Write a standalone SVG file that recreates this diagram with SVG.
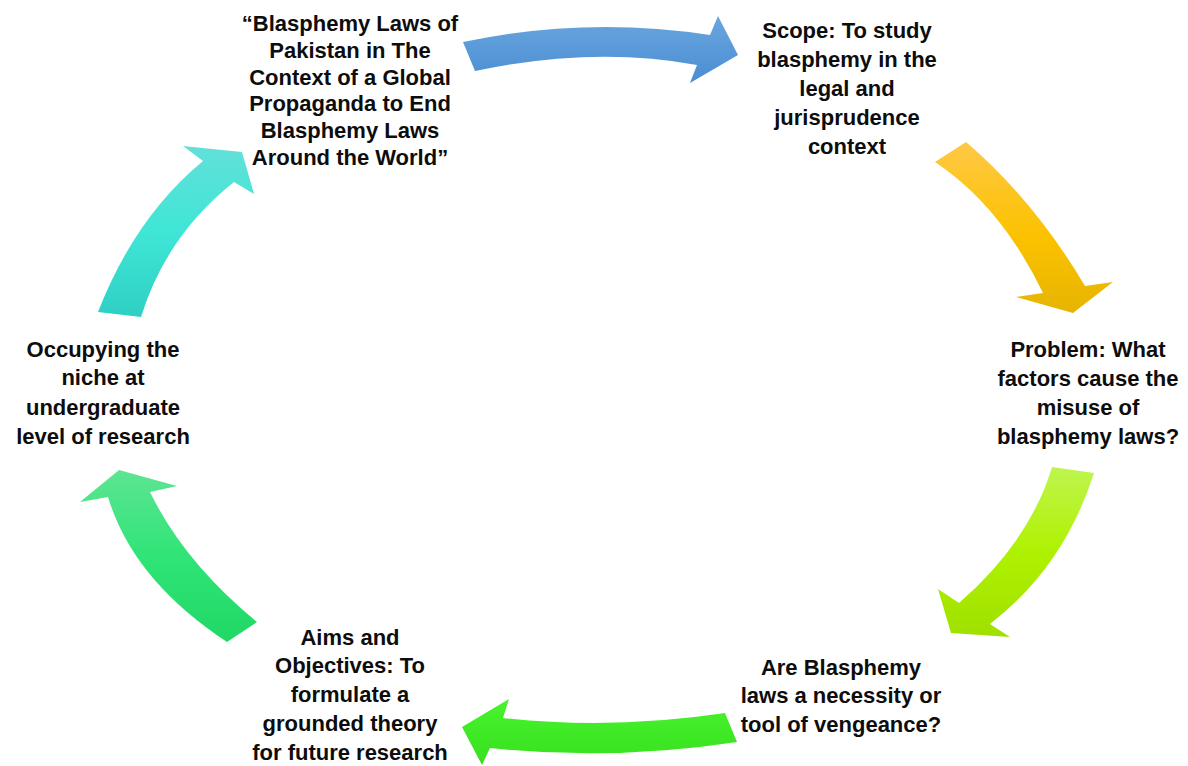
<svg xmlns="http://www.w3.org/2000/svg" width="1188" height="766" viewBox="0 0 1188 766">
  <style>
    .lbl { font-family: "Liberation Sans", Arial, sans-serif; font-weight: 700; font-size: 22px; fill: #0d0d0d; text-anchor: middle; }
  </style>
  <defs>
    <linearGradient id="gBlue" x1="0" y1="0" x2="0" y2="1">
      <stop offset="0" stop-color="#6aa6de"/>
      <stop offset="1" stop-color="#4a8dd4"/>
    </linearGradient>
    <linearGradient id="gYellow" x1="0" y1="0" x2="0" y2="1">
      <stop offset="0" stop-color="#ffc845"/>
      <stop offset="0.55" stop-color="#fcc200"/>
      <stop offset="1" stop-color="#e6b400"/>
    </linearGradient>
    <linearGradient id="gLime" x1="0" y1="0" x2="0" y2="1">
      <stop offset="0" stop-color="#bef54f"/>
      <stop offset="0.5" stop-color="#aff200"/>
      <stop offset="1" stop-color="#9fe000"/>
    </linearGradient>
    <linearGradient id="gGreen" x1="0" y1="0" x2="0" y2="1">
      <stop offset="0" stop-color="#48f32e"/>
      <stop offset="1" stop-color="#38e01e"/>
    </linearGradient>
    <linearGradient id="gEmerald" x1="0" y1="0" x2="0" y2="1">
      <stop offset="0" stop-color="#5de592"/>
      <stop offset="0.5" stop-color="#30e477"/>
      <stop offset="1" stop-color="#20d866"/>
    </linearGradient>
    <linearGradient id="gTeal" x1="0" y1="0" x2="0" y2="1">
      <stop offset="0" stop-color="#63e0d9"/>
      <stop offset="0.5" stop-color="#3fe6d6"/>
      <stop offset="1" stop-color="#2fd0c4"/>
    </linearGradient>
  </defs>

  <rect width="1188" height="766" fill="#ffffff"/>

  <!-- curved arrows of the cycle -->
  <g id="connectors">
    <path fill="url(#gBlue)" d="M463,42 Q586,16 710,35 L718,16 L738,55 L690,83 L697,65 Q594,46 475,71 Z"/>
    <path fill="url(#gYellow)" d="M966,142 Q1034,200 1085,286 L1113,282 L1073,313 L1016,297 L1043,293 Q1001,206 935,162 Z"/>
    <path fill="url(#gLime)" d="M1094,473 Q1064,567 990,624 L1010,637 L951,633 L938,589 L959,603 Q1030,541 1052,467 Z"/>
    <path fill="url(#gGreen)" d="M725,713 Q612,730 503,718 L509,699 L462,727 L482,765 L490,748 Q613,761 737,742 Z"/>
    <path fill="url(#gEmerald)" d="M257,622 Q184,562 150,492 L177,486 L119,470 L80,502 L108,497 Q133,580 227,642 Z"/>
    <path fill="url(#gTeal)" d="M98,312 Q135,217 203,161 L183,146 L242,152 L254,194 L234,182 Q166,236 141,317 Z"/>
  </g>

  <g id="node-title">
    <text class="lbl" x="350" y="31">“Blasphemy Laws of</text>
    <text class="lbl" x="350" y="58">Pakistan in The</text>
    <text class="lbl" x="350" y="85">Context of a Global</text>
    <text class="lbl" x="350" y="111">Propaganda to End</text>
    <text class="lbl" x="350" y="138">Blasphemy Laws</text>
    <text class="lbl" x="350" y="165">Around the World”</text>
  </g>

  <g id="node-scope">
    <text class="lbl" x="847" y="38">Scope: To study</text>
    <text class="lbl" x="847" y="67">blasphemy in the</text>
    <text class="lbl" x="847" y="96">legal and</text>
    <text class="lbl" x="847" y="125">jurisprudence</text>
    <text class="lbl" x="847" y="154">context</text>
  </g>

  <g id="node-problem">
    <text class="lbl" x="1088" y="357">Problem: What</text>
    <text class="lbl" x="1088" y="386">factors cause the</text>
    <text class="lbl" x="1088" y="415">misuse of</text>
    <text class="lbl" x="1088" y="444">blasphemy laws?</text>
  </g>

  <g id="node-question">
    <text class="lbl" x="841" y="675">Are Blasphemy</text>
    <text class="lbl" x="841" y="703">laws a necessity or</text>
    <text class="lbl" x="841" y="732">tool of vengeance?</text>
  </g>

  <g id="node-aims">
    <text class="lbl" x="350" y="645">Aims and</text>
    <text class="lbl" x="350" y="673">Objectives: To</text>
    <text class="lbl" x="350" y="702">formulate a</text>
    <text class="lbl" x="350" y="731">grounded theory</text>
    <text class="lbl" x="350" y="760">for future research</text>
  </g>

  <g id="node-niche">
    <text class="lbl" x="103" y="357">Occupying the</text>
    <text class="lbl" x="103" y="385">niche at</text>
    <text class="lbl" x="103" y="415">undergraduate</text>
    <text class="lbl" x="103" y="444">level of research</text>
  </g>
</svg>
